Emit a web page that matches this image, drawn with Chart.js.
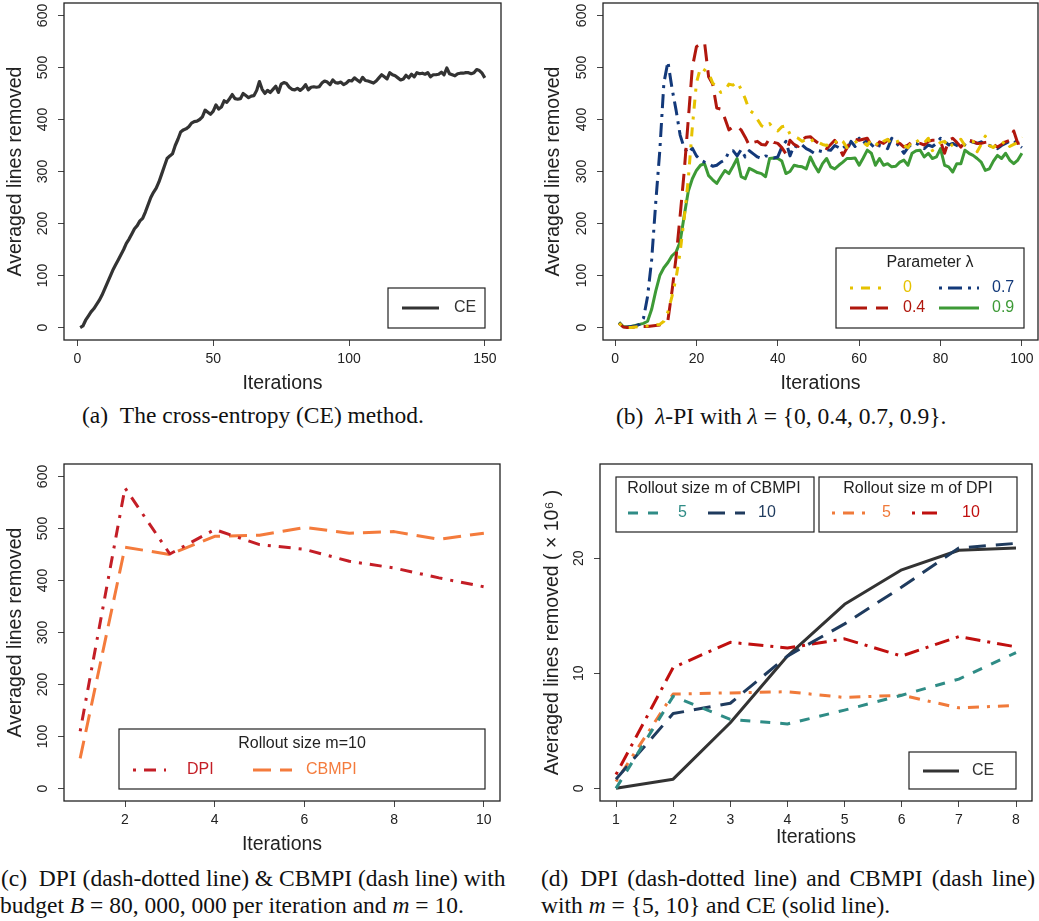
<!DOCTYPE html>
<html>
<head>
<meta charset="utf-8">
<script src="https://cdn.jsdelivr.net/npm/chart.js@4.4.1/dist/chart.umd.min.js"></script>
<style>
  body { margin: 0; background: #fff; width: 1039px; height: 921px; position: relative; overflow: hidden; }
  canvas { position: absolute; }
  .cap { position: absolute; font-family: "Liberation Serif", "DejaVu Serif", serif; font-size: 23.5px; line-height: 1; color: #111; white-space: nowrap; }
  .just { text-align: justify; text-align-last: justify; }
</style>
</head>
<body>
<canvas id="chartA" width="520" height="400" style="left:0;top:0"></canvas>
<canvas id="chartB" width="499" height="400" style="left:540px;top:0"></canvas>
<canvas id="chartC" width="520" height="421" style="left:0;top:440px"></canvas>
<canvas id="chartD" width="519" height="421" style="left:520px;top:440px"></canvas>

<div class="cap" style="left:82px;top:404px">(a)&ensp;The cross-entropy (CE) method.</div>
<div class="cap" style="left:616px;top:405px">(b)&ensp;<i>λ</i>-PI with <i>λ</i> = {0, 0.4, 0.7, 0.9}.</div>
<div class="cap just" style="left:1px;top:867px;width:502px">(c)&ensp;DPI (dash-dotted line) &amp; CBMPI (dash line) with</div>
<div class="cap" style="left:0;top:894px">budget <i>B</i> = 80, 000, 000 per iteration and <i>m</i> = 10.</div>
<div class="cap just" style="left:541px;top:867px;width:494px">(d)&ensp;DPI (dash-dotted line) and CBMPI (dash line)</div>
<div class="cap" style="left:541px;top:894px">with <i>m</i> = {5, 10} and CE (solid line).</div>

<script>
// (a) cross-entropy, 150 iterations
const ceA = [
  0, 3, 14, 22, 30, 36, 44, 52, 62, 74,
  86, 98, 110, 120, 130, 140, 150, 162, 170, 180,
  190, 196, 205, 210, 222, 236, 250, 260, 268, 280,
  295, 310, 325, 330, 334, 350, 362, 376, 380, 382,
  386, 393, 396, 397, 400, 405, 418, 414, 410, 416,
  428, 420, 424, 436, 433, 440, 448, 440, 439, 440,
  450, 446, 442, 445, 446, 456, 473, 458, 450, 456,
  452, 458, 464, 452, 468, 471, 469, 462, 458, 457,
  460, 456, 460, 467, 457, 462, 463, 462, 463, 470,
  474, 472, 467, 476, 471, 470, 472, 467, 470, 475,
  474, 480, 476, 472, 481, 475, 474, 472, 470, 474,
  480, 486, 482, 478, 490, 486, 484, 480, 476, 478,
  485, 480, 487, 482, 490, 488, 489, 487, 490, 482,
  486, 486, 487, 491, 486, 499, 488, 486, 484, 488,
  489, 489, 490, 490, 488, 490, 496, 494, 489, 480
];
const xTicksA = [0, 50, 100, 150];
const yTicksLines = [0, 100, 200, 300, 400, 500, 600];

// (b) lambda-PI, 100 iterations
const lambdaLabels = ['0', '0.4', '0.7', '0.9'];
const lam0 = [
  8, 1, 0, 0, 1, 2, 3, 3, 4, 5,
  6, 12, 30, 60, 95, 145, 210, 285, 385, 470,
  500, 495, 490, 470, 462, 452, 455, 468, 466, 472,
  458, 440, 418, 412, 400, 388, 384, 392, 382, 378,
  386, 388, 372, 368, 364, 358, 362, 365, 354, 356,
  352, 350, 356, 354, 364, 358, 346, 352, 356, 360,
  356, 350, 362, 355, 348, 358, 362, 352, 356, 360,
  350, 346, 358, 362, 352, 355, 364, 340, 348, 356,
  358, 345, 352, 356, 362, 350, 354, 358, 338, 352,
  368, 350, 346, 355, 352, 360, 348, 352, 356, 366
];
const lam04 = [
  8, 1, 0, 0, 1, 1, 2, 2, 3, 4,
  5, 8, 14, 70, 135, 215, 300, 400, 500, 540,
  545, 548, 482, 468, 422, 420, 402, 380, 386, 386,
  380, 366, 350, 356, 358, 352, 351, 364, 356, 354,
  346, 334, 360, 352, 348, 362, 366, 367, 360, 354,
  348, 344, 352, 360, 348, 331, 345, 360, 362, 360,
  362, 364, 350, 347, 357, 354, 360, 364, 356, 354,
  347, 351, 357, 355, 354, 351, 358, 360, 360, 358,
  335, 360, 364, 356, 347, 357, 360, 358, 354, 354,
  356, 357, 352, 347, 352, 357, 360, 378, 354, 356
];
const lam07 = [
  9, 1, 1, 2, 3, 6, 18, 60, 130, 240,
  340, 470, 511, 460, 418, 370, 345, 335, 345, 330,
  322, 318, 315, 310, 312, 318, 322, 338, 340, 330,
  342, 328, 340, 334, 328, 325, 330, 328, 326, 328,
  347, 358, 330, 350, 346, 351, 344, 340, 335, 340,
  338, 342, 341, 350, 346, 351, 341, 358, 348, 364,
  354, 360, 352, 344, 350, 348, 344, 364, 356, 347,
  335, 346, 354, 354, 350, 344, 351, 348, 354, 364,
  358, 351, 354, 350, 347, 352, 360, 356, 354, 357,
  352, 350, 347, 344, 350, 354, 358, 360, 352, 346
];
const lam09 = [
  10, 2, 1, 2, 4, 6, 8, 12, 35, 70,
  100, 115, 125, 138, 145, 165, 215, 262, 286, 302,
  312, 315, 292, 284, 277, 290, 302, 296, 310, 325,
  290, 286, 306, 302, 298, 296, 290, 325, 326, 325,
  320, 296, 300, 312, 310, 309, 305, 328, 312, 299,
  315, 325, 309, 305, 312, 318, 325, 325, 326, 312,
  326, 341, 335, 312, 325, 312, 315, 309, 310, 318,
  322, 312, 335, 340, 341, 328, 335, 325, 328, 344,
  312, 309, 299, 315, 315, 341, 335, 331, 325, 318,
  302, 305, 320, 331, 325, 335, 322, 315, 322, 335
];
const xTicksB = [0, 20, 40, 60, 80, 100];

// (c) DPI vs CBMPI, m = 10
const dpiC = [110, 578, 451, 498, 469, 460, 437, 424, 405, 388];
const cbmpiC = [58, 464, 450, 485, 487, 502, 491, 494, 479, 491];
const xTicksC = [2, 4, 6, 8, 10];

// (d) lines removed (x 10^6)
const cbmpi5D = [0, 8.0, 6.0, 5.6, 6.8, 8.1, 9.5, 11.8];
const cbmpi10D = [0.8, 6.5, 7.4, 11.5, 14.3, 17.5, 20.9, 21.3];
const dpi5D = [0.6, 8.2, 8.3, 8.4, 7.9, 8.1, 7.0, 7.2];
const dpi10D = [1.2, 10.5, 12.7, 12.2, 13.0, 11.5, 13.2, 12.3];
const ceD = [0, 0.8, 5.7, 11.5, 16.0, 19.0, 20.7, 20.9];
const xTicksD = [1, 2, 3, 4, 5, 6, 7, 8];
const yTicksD = [0, 10, 20];

const SANS = '"Liberation Sans", Arial, sans-serif';
const INK = '#222';

function series(label, ys, color, dash, width) {
  return {
    label: label,
    data: ys.map((y, i) => ({ x: i + 1, y: y })),
    borderColor: color,
    borderDash: dash,
    borderWidth: width,
    pointRadius: 0,
    tension: 0,
    fill: false,
    borderCapStyle: 'butt',
    borderJoinStyle: 'round'
  };
}

function noPad(s) {
  s.paddingLeft = 0; s.paddingRight = 0; s.paddingTop = 0; s.paddingBottom = 0;
}

function xAxis(min, max, ticks, titleBottom) {
  return {
    type: 'linear', min: min, max: max,
    afterBuildTicks: s => { s.ticks = ticks.map(v => ({ value: v })); },
    afterFit: s => { s.height = 60; noPad(s); },
    grid: { drawOnChartArea: false, drawTicks: true, tickLength: 6, tickColor: '#444', tickWidth: 1 },
    border: { display: false },
    ticks: { autoSkip: false, maxRotation: 0, padding: 5, color: INK, font: { family: SANS, size: 14 } },
    title: { display: true, text: 'Iterations', color: INK, font: { family: SANS, size: 19.5 }, padding: { top: 0, bottom: titleBottom } }
  };
}

function yAxis(min, max, ticks, title, width, tickPad, titleTop) {
  return {
    type: 'linear', min: min, max: max,
    afterBuildTicks: s => { s.ticks = ticks.map(v => ({ value: v })); },
    afterFit: s => { s.width = width; noPad(s); },
    grid: { drawOnChartArea: false, drawTicks: true, tickLength: 6, tickColor: '#444', tickWidth: 1 },
    border: { display: false },
    ticks: { autoSkip: false, minRotation: 90, maxRotation: 90, crossAlign: 'center', padding: tickPad, color: INK, font: { family: SANS, size: 14 } },
    title: { display: true, text: title, color: INK, font: { family: SANS, size: 19.5 }, padding: { top: titleTop, bottom: 0 } }
  };
}

// plot frame like R's box()
const frame = {
  id: 'frame',
  afterDraw(chart) {
    const a = chart.chartArea, ctx = chart.ctx;
    ctx.save();
    ctx.strokeStyle = '#222';
    ctx.lineWidth = 1.3;
    ctx.strokeRect(a.left, a.top, a.right - a.left, a.bottom - a.top);
    ctx.restore();
  }
};

// R-style legend boxes, samples taken from the dataset styles
const rLegend = {
  id: 'rLegend',
  afterDraw(chart, args, opts) {
    const ctx = chart.ctx;
    (opts.boxes || []).forEach(b => {
      ctx.save();
      ctx.fillStyle = '#fff';
      ctx.fillRect(b.x, b.y, b.w, b.h);
      ctx.strokeStyle = '#222';
      ctx.lineWidth = 1.2;
      ctx.strokeRect(b.x, b.y, b.w, b.h);
      ctx.font = '16px ' + SANS;
      ctx.textBaseline = 'middle';
      if (b.title) {
        ctx.fillStyle = INK;
        ctx.textAlign = 'center';
        ctx.fillText(b.title, b.tx, b.ty);
      }
      b.items.forEach(it => {
        const ds = chart.data.datasets[it.ds];
        ctx.strokeStyle = ds.borderColor;
        ctx.lineWidth = ds.borderWidth;
        ctx.lineCap = 'butt';
        ctx.setLineDash(ds.borderDash || []);
        ctx.beginPath();
        ctx.moveTo(it.x1, it.y);
        ctx.lineTo(it.x2, it.y);
        ctx.stroke();
        ctx.setLineDash([]);
        ctx.fillStyle = ds.borderColor;
        ctx.textAlign = 'left';
        ctx.fillText(ds.label, it.lx, it.y);
      });
      ctx.restore();
    });
  }
};

function makeChart(id, datasets, scales, padding, boxes) {
  return new Chart(document.getElementById(id), {
    type: 'line',
    data: { datasets: datasets },
    options: {
      responsive: false,
      animation: false,
      devicePixelRatio: 1,
      layout: { padding: padding },
      scales: scales,
      plugins: {
        legend: { display: false },
        tooltip: { enabled: false },
        rLegend: { boxes: boxes }
      }
    },
    plugins: [frame, rLegend]
  });
}

// (a)
makeChart('chartA',
  [series('CE', ceA, '#333333', [], 3.2)],
  {
    x: xAxis(-4.96, 155.96, xTicksA, 5),
    y: yAxis(-24, 624, yTicksLines, 'Averaged lines removed', 64, 3.5, 4)
  },
  { top: 3, right: 19, bottom: 0, left: 0 },
  [{ x: 388, y: 288, w: 97, h: 40, items: [{ ds: 0, x1: 402, x2: 439, y: 308, lx: 454 }] }]
);

// (b)
makeChart('chartB',
  [
    series(lambdaLabels[0], lam0, '#e6c200', [3, 8, 9, 8], 3),
    series(lambdaLabels[1], lam04, '#b0170d', [17, 9], 3),
    series(lambdaLabels[2], lam07, '#13397a', [3, 6, 14, 6], 3),
    series(lambdaLabels[3], lam09, '#3d9a36', [], 3)
  ],
  {
    x: xAxis(-2.96, 103.96, xTicksB, 5),
    y: yAxis(-24, 624, yTicksLines, 'Averaged lines removed', 63, 3.5, 2)
  },
  { top: 3, right: 1, bottom: 0, left: 0 },
  [{
    x: 296, y: 248, w: 188, h: 80, title: 'Parameter λ', tx: 390, ty: 263,
    items: [
      { ds: 0, x1: 310, x2: 348, y: 288, lx: 363 },
      { ds: 2, x1: 399, x2: 439, y: 288, lx: 452 },
      { ds: 1, x1: 310, x2: 348, y: 308, lx: 363 },
      { ds: 3, x1: 399, x2: 439, y: 308, lx: 452 }
    ]
  }]
);

// (c)
makeChart('chartC',
  [
    series('DPI', dpiC, '#c41e26', [3, 8, 12, 8], 3),
    series('CBMPI', cbmpiC, '#f47b3c', [18, 9], 3)
  ],
  {
    x: xAxis(0.64, 10.36, xTicksC, 5),
    y: yAxis(-24, 624, yTicksLines, 'Averaged lines removed', 64, 3.5, 4)
  },
  { top: 24, right: 20, bottom: 0, left: 0 },
  [{
    x: 119, y: 289, w: 366, h: 60, title: 'Rollout size m=10', tx: 302, ty: 304,
    items: [
      { ds: 0, x1: 133, x2: 166, y: 330, lx: 187 },
      { ds: 1, x1: 253, x2: 292, y: 330, lx: 306 }
    ]
  }]
);

// (d)
makeChart('chartD',
  [
    series('5', cbmpi5D, '#2f8c86', [10, 10], 3),
    series('10', cbmpi10D, '#1f3b5e', [17, 10], 3),
    series('5', dpi5D, '#f07a3a', [3, 8, 11, 8], 3),
    series('10', dpi10D, '#c0100f', [3, 7, 15, 7], 3),
    series('CE', ceD, '#333333', [], 3)
  ],
  {
    x: xAxis(0.72, 8.28, xTicksD, 12),
    y: yAxis(-1.1, 28.2, yTicksD, 'Averaged lines removed ( × 10⁶ )', 80, 7, 21)
  },
  { top: 24, right: 7, bottom: 0, left: 0 },
  [
    {
      x: 96, y: 37, w: 198, h: 55, title: 'Rollout size m of CBMPI', tx: 194, ty: 49,
      items: [
        { ds: 0, x1: 108, x2: 138, y: 73, lx: 158 },
        { ds: 1, x1: 188, x2: 225, y: 73, lx: 238 }
      ]
    },
    {
      x: 299, y: 37, w: 198, h: 55, title: 'Rollout size m of DPI', tx: 398, ty: 49,
      items: [
        { ds: 2, x1: 312, x2: 345, y: 73, lx: 362 },
        { ds: 3, x1: 392, x2: 418, y: 73, lx: 442 }
      ]
    },
    {
      x: 389, y: 312, w: 107, h: 37,
      items: [{ ds: 4, x1: 403, x2: 439, y: 331, lx: 452 }]
    }
  ]
);
</script>
</body>
</html>
